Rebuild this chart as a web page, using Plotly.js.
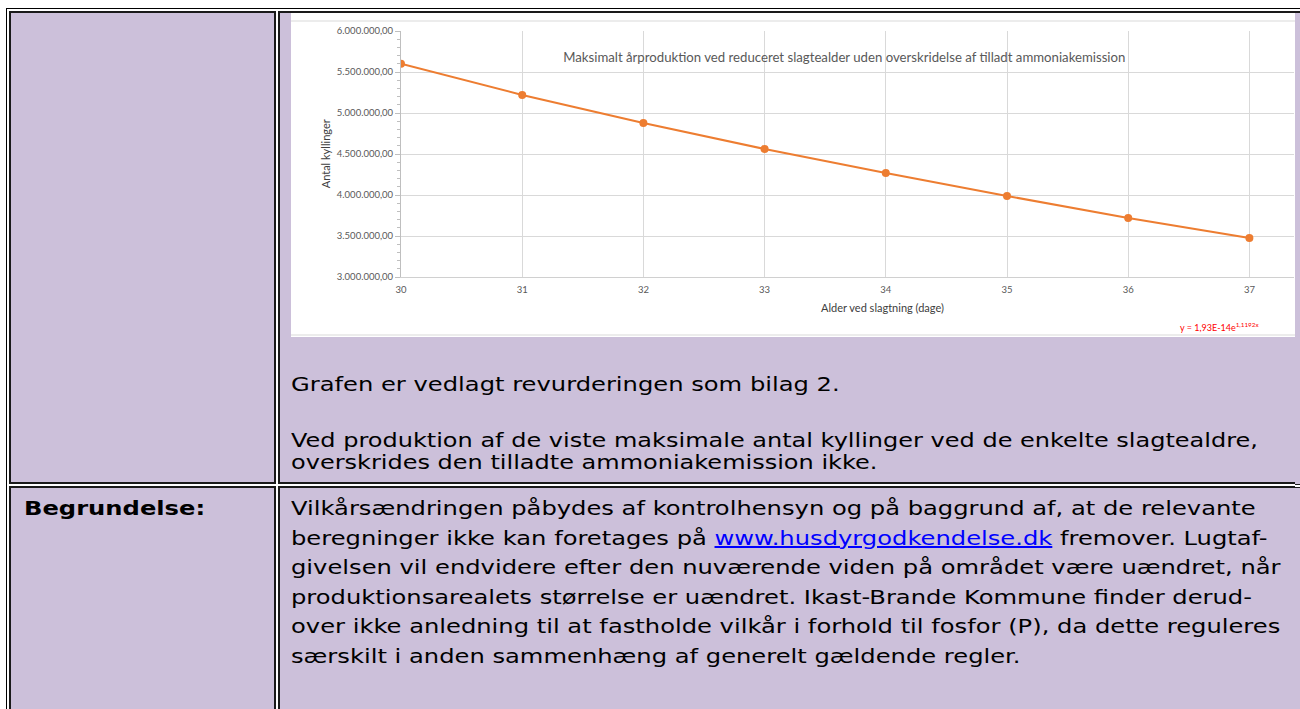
<!DOCTYPE html>
<html>
<head>
<meta charset="utf-8">
<script src="https://cdn.plot.ly/plotly-3.0.1.min.js"></script>
<style>
  html, body { margin:0; padding:0; background:#fff; }
  html { overflow:hidden; }
  body { width:1300px; height:709px; overflow:hidden; position:relative; }
  #tbl { position:absolute; left:6px; top:8px; width:1330px; border:1px solid #000; border-right:none; border-spacing:2px; border-collapse:separate; }
  #tbl td { border:2px solid #1a1a1a; background:#CCC0DA; padding:0; vertical-align:top; }
  #tbl td.rc { border-right:none; }
  .box { position:relative; overflow:visible; }
  .txt { position:absolute; left:0; white-space:nowrap; font-family:"DejaVu Sans", Verdana, sans-serif; font-size:20px; color:#000;
         transform:scaleX(1.21); transform-origin:0 0; }
  .txt a { color:#0000FF; text-decoration:underline; }
  #chartwrap { position:absolute; left:11px; top:0; width:1004px; height:324px; background:#fff; }
  #chart { position:absolute; left:0; top:0; width:1004px; height:324px; }
  .frame { position:absolute; left:0; width:1004px; height:2px; background:#ECECEC; }
  #edge { position:absolute; left:1295px; top:13px; width:5px; height:696px; background:#CCC0DA; z-index:5; }
  #edge2 { position:absolute; left:1295px; top:484px; width:5px; height:4px; background:#fff; z-index:6;
           border-top:1px solid #1a1a1a; border-bottom:1px solid #1a1a1a; box-sizing:border-box; }
</style>
</head>
<body>
<table id="tbl">
  <tr>
    <td style="width:263px;"><div class="box" style="width:263px;height:469px;"></div></td>
    <td class="rc"><div class="box" style="width:1040px;height:469px;">
      <div id="chartwrap">
        <div class="frame" style="top:7px;"></div>
        <div id="chart"></div>
        <div class="frame" style="top:321px;"></div>
      </div>
      <div class="txt" style="left:11px;top:360px;line-height:22px;">Grafen er vedlagt revurderingen som bilag 2.</div>
      <div class="txt" style="left:11px;top:416px;line-height:22px;transform:scaleX(1.2);">Ved produktion af de viste maksimale antal kyllinger ved de enkelte slagtealdre,<br>overskrides den tilladte ammoniakemission ikke.</div>
    </div></td>
  </tr>
  <tr>
    <td style="width:263px;"><div class="box" style="width:263px;height:240px;">
      <div class="txt" style="left:13px;top:6px;line-height:29.6px;font-weight:bold;">Begrundelse:</div>
    </div></td>
    <td class="rc"><div class="box" style="width:1040px;height:240px;">
      <div class="txt" style="left:11px;top:6px;line-height:29.6px;">Vilkårsændringen påbydes af kontrolhensyn og på baggrund af, at de relevante<br>beregninger ikke kan foretages på <a href="#">www.husdyrgodkendelse.dk</a> fremover. Lugtaf-<br>givelsen vil endvidere efter den nuværende viden på området være uændret, når<br>produktionsarealets størrelse er uændret. Ikast-Brande Kommune finder derud-<br>over ikke anledning til at fastholde vilkår i forhold til fosfor (P), da dette reguleres<br>særskilt i anden sammenhæng af generelt gældende regler.</div>
    </div></td>
  </tr>
</table>
<div id="edge"></div>
<div id="edge2"></div>
<script>
// Data
const ages = [30, 31, 32, 33, 34, 35, 36, 37];
const chickens = [5600000, 5220000, 4878000, 4561000, 4268000, 3988000, 3720000, 3476000];
const yTickVals = [3000000, 3500000, 4000000, 4500000, 5000000, 5500000, 6000000];
const xTickVals = [30, 31, 32, 33, 34, 35, 36, 37];
const chartTitle = "Maksimalt årproduktion ved reduceret slagtealder uden overskridelse af tilladt ammoniakemission";
const xTitle = "Alder ved slagtning (dage)";
const yTitle = "Antal kyllinger";
const trendText = "y = 1,93E-14e<sup>1,1192x</sup>";

const orange = "#ED7D31";
const grey = "#595959";
const fnt = "Lato, 'Open Sans', sans-serif";

const trace = {
  x: ages, y: chickens, type: "scatter", mode: "lines+markers",
  line: { color: orange, width: 2 },
  marker: { color: orange, size: 8 },
  hoverinfo: "x+y"
};

const layout = {
  width: 1004, height: 324,
  margin: { l: 110, r: 1, t: 18, b: 60 },
  paper_bgcolor: "rgba(0,0,0,0)", plot_bgcolor: "#fff",
  separators: ",.",
  showlegend: false,
  font: { family: fnt, color: grey, size: 9 },
  title: { text: chartTitle, font: { family: fnt, size: 13.2, color: grey },
           xref: "paper", x: 0.4964, xanchor: "center", yref: "paper", y: 0.894, yanchor: "middle" },
  xaxis: {
    range: [30, 37.368], tickvals: xTickVals, ticktext: xTickVals.map(String),
    showgrid: true, gridcolor: "#D9D9D9", gridwidth: 1,
    showline: true, linecolor: "#D0D0D0", linewidth: 1,
    zeroline: false, ticks: "", ticklabelstandoff: 4,
    tickfont: { family: fnt, size: 9.5, color: grey },
    fixedrange: true
  },
  yaxis: {
    range: [3000000, 6000000], tickvals: yTickVals, tickformat: ",.2f",
    showgrid: true, gridcolor: "#D9D9D9", gridwidth: 1,
    showline: true, linecolor: "#BFBFBF", linewidth: 1,
    zeroline: false, ticks: "outside", ticklen: 5, tickcolor: "#BFBFBF",
    minor: { dtick: 100000, ticks: "outside", ticklen: 3, tickcolor: "#BFBFBF", showgrid: false },
    tickfont: { family: fnt, size: 9.5, color: grey },
    fixedrange: true
  },
  annotations: [
    { text: yTitle, xref: "paper", yref: "paper", x: -0.0848, y: 0.5, xanchor: "center", yanchor: "middle",
      textangle: -90, showarrow: false, font: { family: fnt, size: 11, color: "#404040" } },
    { text: xTitle, xref: "paper", yref: "paper", x: 0.539, y: -0.122, xanchor: "center", yanchor: "middle",
      showarrow: false, font: { family: fnt, size: 11, color: "#404040" } },
    { text: trendText, xref: "paper", yref: "paper", x: 0.9634, y: -0.203, xanchor: "right", yanchor: "middle",
      showarrow: false, font: { family: fnt, size: 9, color: "#FF0000" } }
  ]
};

Plotly.newPlot("chart", [trace], layout, { displayModeBar: false, staticPlot: true });
</script>
</body>
</html>
